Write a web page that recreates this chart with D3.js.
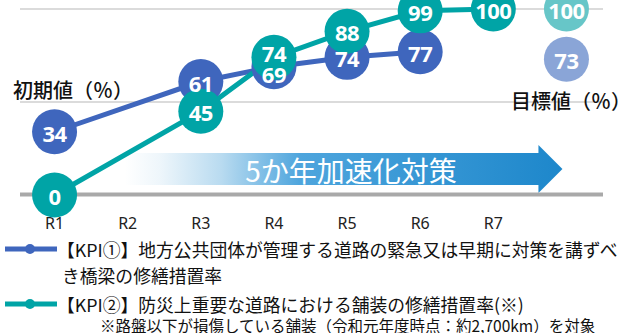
<!DOCTYPE html>
<html>
<head>
<meta charset="utf-8">
<script src="https://cdn.jsdelivr.net/npm/d3@7"></script>
<style>
  html, body { margin: 0; padding: 0; background: #fff; }
  svg { display: block; }
</style>
</head>
<body>
<div id="chart"></div>
<script>
// Fiscal years (R = 令和) plus one extra column for the target values
const years = ["R1", "R2", "R3", "R4", "R5", "R6", "R7"];
const targetKey = "目標";

// KPI① 橋梁の修繕措置率 (%), KPI② 舗装の修繕措置率 (%); null = no value
const kpi1Values = [34, null, 61, 69, 74, 77, null];
const kpi2Values = [0, null, 45, 74, 88, 99, 100];
const kpi1Target = 73;
const kpi2Target = 100;

const gridValues = [50, 100];
const startLabel = "初期値（％）";
const targetLabel = "目標値（％）";
const arrowLabel = "5か年加速化対策";
const legendKpi1 = ["【KPI①】地方公共団体が管理する道路の緊急又は早期に対策を講ずべ", "き橋梁の修繕措置率"];
const legendKpi2 = "【KPI②】防災上重要な道路における舗装の修繕措置率(※)";
const footnote = "※路盤以下が損傷している舗装（令和元年度時点：約2,700km）を対象";

const W = 638, H = 333;
const blue = "#3f66bd", teal = "#00a4a6";
const blueLight = "#8aa5d7", tealLight = "#67c6c8";
const jp = "'Noto Sans CJK JP', 'Noto Sans', sans-serif";
const num = "'Noto Sans', 'Open Sans', sans-serif";

const svg = d3.select("#chart").append("svg")
  .attr("width", W).attr("height", H);

const x = d3.scaleBand()
  .domain([...years, targetKey])
  .range([18, 603]);
const cx = k => x(k) + x.bandwidth() / 2;
const y = d3.scaleLinear().domain([0, 100]).range([195, 9]);

const R = 22.5;

// gradient for the "5か年" arrow
const defs = svg.append("defs");
const grad = defs.append("linearGradient").attr("id", "arrowGrad")
  .attr("x1", "0%").attr("x2", "100%").attr("y1", "0%").attr("y2", "0%");
[[0, "#ffffff"], [0.08, "#eef6fb"], [0.22, "#b9dbf0"], [0.4, "#4ea5dd"], [1, "#1d87cb"]]
  .forEach(([o, c]) => grad.append("stop").attr("offset", o).attr("stop-color", c));

// grid lines
svg.append("g").selectAll("line").data(gridValues).join("line")
  .attr("x1", 20).attr("x2", 603)
  .attr("y1", d => y(d)).attr("y2", d => y(d))
  .attr("stroke", "#cfcfcf").attr("stroke-width", 1.5);

// arrow
const ax0 = cx("R2") - 3, axTip = cx(targetKey) - 4, axNeck = axTip - 24;
const ayMid = 169, bodyHalf = 16, headHalf = 24;
svg.append("path")
  .attr("d", `M${ax0},${ayMid - bodyHalf} L${axNeck},${ayMid - bodyHalf} L${axNeck},${ayMid - headHalf}
              L${axTip},${ayMid} L${axNeck},${ayMid + headHalf} L${axNeck},${ayMid + bodyHalf}
              L${ax0},${ayMid + bodyHalf} Z`)
  .attr("fill", "url(#arrowGrad)");
svg.append("text")
  .attr("x", 351).attr("y", ayMid + 1)
  .attr("text-anchor", "middle").attr("dominant-baseline", "central")
  .attr("font-family", jp).attr("font-size", 28).attr("fill", "#fff")
  .text(arrowLabel);

// baseline (0 %)
svg.append("line")
  .attr("x1", 20).attr("x2", 603).attr("y1", y(0) - 0.5).attr("y2", y(0) - 0.5)
  .attr("stroke", "#a9a9a9").attr("stroke-width", 4);

// x axis labels
const xAxis = d3.axisBottom(x).tickValues(years).tickSize(0).tickPadding(0);
const gx = svg.append("g").attr("transform", `translate(0,${y(0) + 28})`).call(xAxis);
gx.select(".domain").remove();
gx.selectAll("text")
  .attr("dy", null).attr("dominant-baseline", "central")
  .attr("font-family", num).attr("font-size", 16).attr("fill", "#222");

// series
const series = [
  { values: kpi1Values, color: blue },
  { values: kpi2Values, color: teal }
];
const pts = series.map(s => years.map((k, i) => ({ k, v: s.values[i] })).filter(d => d.v != null));

const line = d3.line().x(d => cx(d.k)).y(d => y(d.v));
series.forEach((s, i) => {
  svg.append("path").datum(pts[i])
    .attr("d", line).attr("fill", "none")
    .attr("stroke", s.color).attr("stroke-width", 5);
});

// target markers
const targets = [
  { v: kpi1Target, color: blueLight },
  { v: kpi2Target, color: tealLight }
];
svg.append("g").selectAll("circle").data(targets).join("circle")
  .attr("cx", cx(targetKey)).attr("cy", d => y(d.v)).attr("r", R)
  .attr("fill", d => d.color);

series.forEach((s, i) => {
  svg.append("g").selectAll("circle").data(pts[i]).join("circle")
    .attr("cx", d => cx(d.k)).attr("cy", d => y(d.v)).attr("r", R)
    .attr("fill", s.color);
});

// value labels: push apart labels of circles that sit almost on top of each other
const labelOffset = (k, idx) => {
  const a = kpi1Values[years.indexOf(k)], b = kpi2Values[years.indexOf(k)];
  if (a == null || b == null) return 0;
  const gap = Math.abs(y(a) - y(b));
  if (gap >= 20) return 0;
  const push = (21 - gap) / 2;
  const mine = idx === 0 ? a : b, other = idx === 0 ? b : a;
  return mine < other ? push : -push;
};
const labels = [];
pts.forEach((p, i) => p.forEach(d => labels.push({ x: cx(d.k), y: y(d.v) + labelOffset(d.k, i), v: d.v })));
targets.forEach(t => labels.push({ x: cx(targetKey), y: y(t.v), v: t.v }));
svg.append("g").selectAll("text").data(labels).join("text")
  .attr("x", d => d.x).attr("y", d => d.y + 1)
  .attr("text-anchor", "middle").attr("dominant-baseline", "central")
  .attr("font-family", num).attr("font-weight", 700).attr("font-size", 22)
  .attr("letter-spacing", -0.5)
  .attr("fill", "#fff").text(d => d.v);

// side captions
svg.append("text").attr("x", 13).attr("y", 89)
  .attr("dominant-baseline", "central")
  .attr("font-family", jp).attr("font-weight", 500).attr("font-size", 20).attr("fill", "#111")
  .text(startLabel);
svg.append("text").attr("x", 511).attr("y", 100)
  .attr("dominant-baseline", "central")
  .attr("font-family", jp).attr("font-weight", 500).attr("font-size", 20).attr("fill", "#111")
  .text(targetLabel);

// legend
const legend = svg.append("g");
[[blue, 249], [teal, 304]].forEach(([c, ly]) => {
  legend.append("line").attr("x1", 5).attr("x2", 57).attr("y1", ly).attr("y2", ly)
    .attr("stroke", c).attr("stroke-width", 5);
  legend.append("circle").attr("cx", 30).attr("cy", ly).attr("r", 5).attr("fill", c);
});
const legText = (t, tx, ty, size) => legend.append("text")
  .attr("x", tx).attr("y", ty).attr("dominant-baseline", "central")
  .attr("font-family", jp).attr("font-size", size).attr("fill", "#111").text(t);
legText(legendKpi1[0], 57, 249, 17.8);
legText(legendKpi1[1], 62, 275, 17.8);
legText(legendKpi2, 57, 304, 17.8);
legText(footnote, 100, 325, 15.5);
</script>
</body>
</html>
